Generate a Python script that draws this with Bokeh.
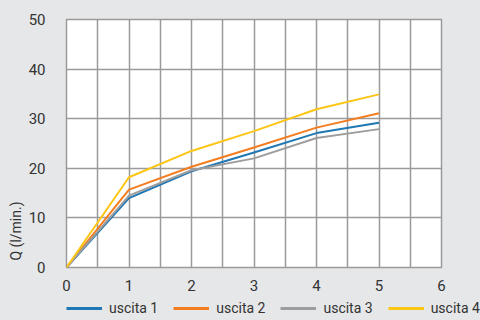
from bokeh.plotting import figure
from bokeh.models import Range1d, Legend, LegendItem, Title, FixedTicker
from bokeh.embed import file_html
from bokeh.resources import INLINE

x = [0, 1, 2, 3, 4, 5]
uscita1 = [0, 14.0, 19.4, 23.2, 27.1, 29.2]
uscita2 = [0, 15.7, 20.3, 24.2, 28.2, 31.1]
uscita3 = [0, 14.5, 19.6, 22.0, 26.1, 27.9]
uscita4 = [0, 18.2, 23.5, 27.5, 31.9, 34.9]
names = ["uscita 1", "uscita 2", "uscita 3", "uscita 4"]
colors = ["#1f77b4", "#f47d20", "#9d9d9d", "#fdc514"]
FONT = "Roboto"
BG = "#e6e7e9"

p = figure(frame_width=375, frame_height=248, output_backend="svg", toolbar_location=None,
           x_range=Range1d(0, 6), y_range=Range1d(0, 50),
           min_border_left=66, min_border_right=39, min_border_top=19,
           min_border_bottom=0)
p.background_fill_color = "white"
p.border_fill_color = BG
p.outline_line_color = "#9a9a9a"
p.outline_line_width = 1.5

p.xaxis.ticker = FixedTicker(ticks=[0, 1, 2, 3, 4, 5, 6])
p.yaxis.ticker = FixedTicker(ticks=[0, 10, 20, 30, 40, 50])
p.xgrid.ticker = FixedTicker(ticks=[0.5 * i for i in range(13)])
for ax in (p.xaxis[0], p.yaxis[0]):
    ax.axis_line_color = None
    ax.major_tick_line_color = None
    ax.minor_tick_line_color = None
    ax.major_tick_out = 0
    ax.major_tick_in = 0
    ax.minor_tick_out = 0
    ax.minor_tick_in = 0
    ax.axis_label_standoff = 0
    ax.major_label_text_font = FONT
    ax.major_label_text_font_size = "15px"
    ax.major_label_text_color = "#333333"
p.yaxis.major_label_standoff = 21
p.xaxis.major_label_standoff = 12
for g in (p.xgrid[0], p.ygrid[0]):
    g.grid_line_color = "#9a9a9a"
    g.grid_line_width = 1.5

t = Title(text="Q (l/min.)", align="left", offset=7, standoff=4, text_font=FONT,
          text_font_size="14px", text_font_style="normal", text_color="#333333")
p.add_layout(t, "left")

series = [uscita1, uscita2, uscita3, uscita4]
for ys, c in zip(series, colors):
    p.line(x, ys, line_color=c, line_width=2)

# legend strip below the chart (its series lie outside its visible range)
lg = figure(width=480, height=23, output_backend="svg", toolbar_location=None,
            x_range=Range1d(0, 6), y_range=Range1d(1000, 1001),
            x_axis_location=None, y_axis_location=None,
            min_border_left=0, min_border_right=0, min_border_top=0, min_border_bottom=0)
lg.background_fill_color = BG
lg.border_fill_color = BG
lg.outline_line_color = None
lg.xgrid.visible = False
lg.ygrid.visible = False
items = []
for name, ys, c in zip(names, series, colors):
    r = lg.line(x, ys, line_color=c, line_width=3)
    items.append(LegendItem(label=name, renderers=[r]))

legend = Legend(items=items, orientation="horizontal", location=(66, 0),
                background_fill_alpha=0, border_line_color=None,
                label_text_font=FONT, label_text_font_size="14px",
                label_text_color="#333333", glyph_width=36, glyph_height=16,
                label_height=16, label_standoff=7, spacing=15, padding=0, margin=0)
lg.add_layout(legend, "center")

html = file_html([p, lg], INLINE)
html = html.replace("<body>", '<body style="background:%s">' % BG)
open("out.html", "w").write(html)
